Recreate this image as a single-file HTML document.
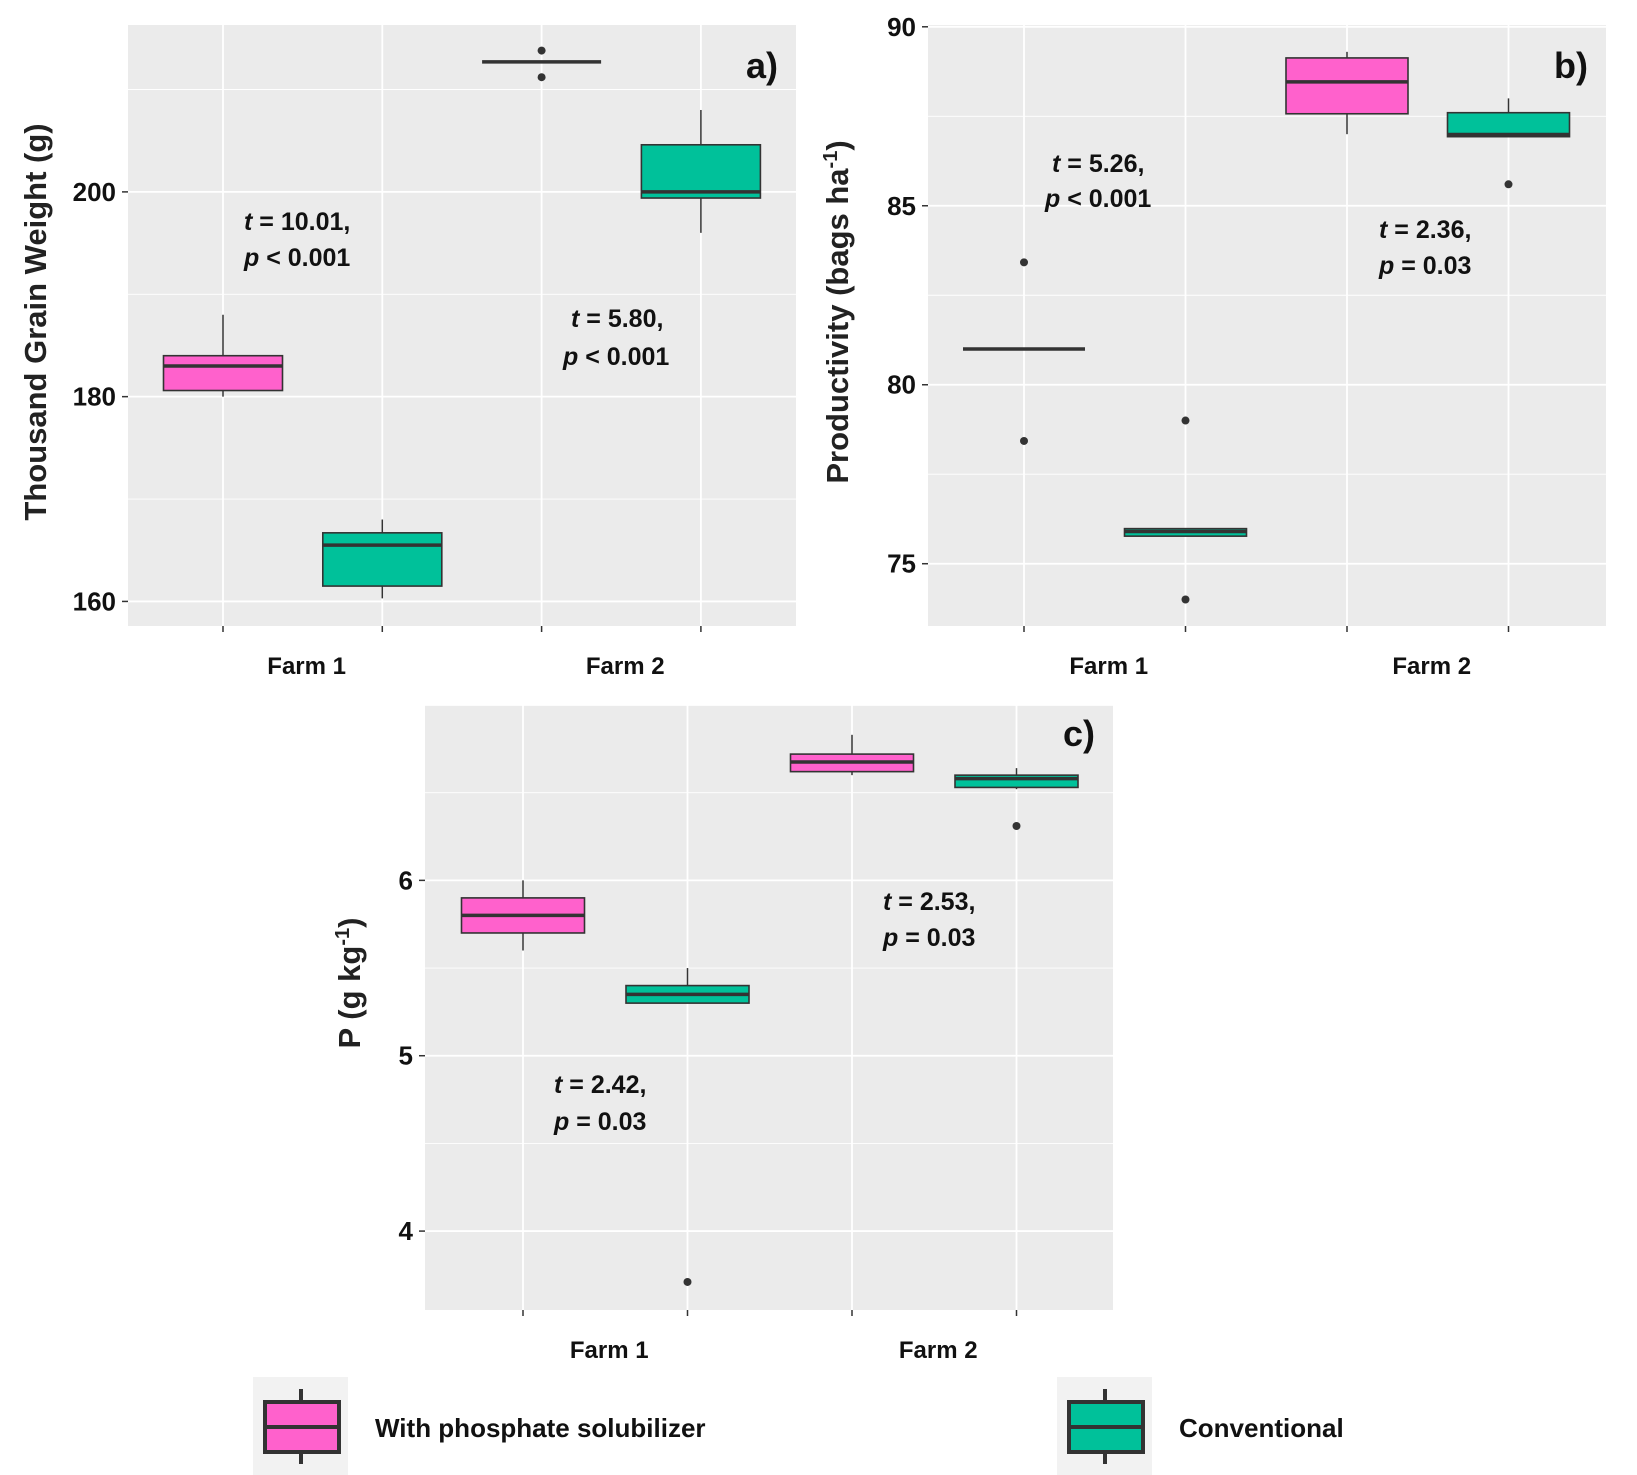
<!DOCTYPE html>
<html><head><meta charset="utf-8"><style>
html,body{margin:0;padding:0;background:#fff;}
svg{display:block;font-family:"Liberation Sans",sans-serif;}
</style></head><body>
<svg id="chart" width="1637" height="1475" viewBox="0 0 1637 1475" xmlns="http://www.w3.org/2000/svg"></svg>
<script>
// ---- data ----
const groups = ["Farm 1 solubilizer","Farm 1 conventional","Farm 2 solubilizer","Farm 2 conventional"];
const farmLabels = ["Farm 1","Farm 2"];
// [lowWhisker, q1, median, q3, highWhisker]
const tgwStats = [[180,180.6,183,184,188],[160.3,161.5,165.5,166.7,168],[212.7,212.7,212.7,212.7,212.7],[196,199.4,200,204.6,208]];
const tgwOutliers = [[],[],[213.8,211.2],[]];
const tgwTicks = [160,180,200];
const prodStats = [[81,81,81,81,81],[75.77,75.77,75.9,75.98,75.98],[87,87.57,88.46,89.13,89.3],[86.93,86.93,86.99,87.6,88]];
const prodOutliers = [[83.42,78.43],[79,74],[],[85.6]];
const prodTicks = [75,80,85,90];
const pStats = [[5.6,5.7,5.8,5.9,6.0],[5.3,5.3,5.35,5.4,5.5],[6.6,6.62,6.675,6.72,6.83],[6.52,6.53,6.58,6.6,6.64]];
const pOutliers = [[],[3.71],[],[6.31]];
const pTicks = [4,5,6];
const colors = ["#FF61CC","#00C19A","#FF61CC","#00C19A"];

const NS="http://www.w3.org/2000/svg";
const svg=document.getElementById('chart');
function mk(tag,attrs,parent){const e=document.createElementNS(NS,tag);for(const k in attrs)e.setAttribute(k,attrs[k]);(parent||svg).appendChild(e);return e;}

function panel(cfg){
  const g=mk('g',{});
  
  
  const {x0,x1,y0,y1,vmin,vmax}=cfg;
  const ys=v=>y1-(v-vmin)/(vmax-vmin)*(y1-y0);
  const xs=i=>cfg.xc0+i*cfg.dx;
  const bg=mk('rect',{x:x0,y:y0,width:x1-x0,height:y1-y0,fill:'#EBEBEB'},g);
  
  
  const step=cfg.ticks[1]-cfg.ticks[0];
  for(let v=cfg.ticks[0]-step/2; v<=vmax+1e-9; v+=step/2){
    if(v<vmin) continue;
    mk('line',{x1:x0,x2:x1,y1:ys(v),y2:ys(v),stroke:'#fff','stroke-width':Math.abs(((v-cfg.ticks[0])/step)%1)<1e-6?1.8:0.9},g);
  }
  for(let i=0;i<4;i++){
    mk('line',{x1:xs(i),x2:xs(i),y1:y0,y2:y1,stroke:'#fff','stroke-width':1.8},g);
    mk('line',{x1:xs(i),x2:xs(i),y1:y1,y2:y1+6,stroke:'#333','stroke-width':1.5},g);
  }
  cfg.ticks.forEach(v=>{
    mk('line',{x1:x0-6,x2:x0,y1:ys(v),y2:ys(v),stroke:'#333','stroke-width':1.5},g);
    const t=mk('text',{x:x0-12,y:ys(v)+9,'text-anchor':'end','font-size':26,'font-weight':'bold',fill:'#111'},g);
    t.textContent=v;
    
    
  });
  cfg.stats.forEach((s,i)=>{
    const cx=xs(i),w=cfg.bw;
    const bx=mk('g',{},g);
    
    
    mk('line',{x1:cx,x2:cx,y1:ys(s[4]),y2:ys(s[3]),stroke:'#333','stroke-width':1.5},bx);
    mk('line',{x1:cx,x2:cx,y1:ys(s[1]),y2:ys(s[0]),stroke:'#333','stroke-width':1.5},bx);
    mk('rect',{x:cx-w/2,y:ys(s[3]),width:w,height:Math.max(0,ys(s[1])-ys(s[3])),fill:colors[i],stroke:'#333','stroke-width':1.6},bx);
    mk('line',{x1:cx-w/2,x2:cx+w/2,y1:ys(s[2]),y2:ys(s[2]),stroke:'#333','stroke-width':3.5},bx);
    cfg.outliers[i].forEach(o=>{
      const c=mk('circle',{cx:cx,cy:ys(o),r:4,fill:'#333'},bx);
      
      
    });
  });
  farmLabels.forEach((f,j)=>{
    const t=mk('text',{x:(xs(2*j)+xs(2*j+1))/2+4,y:y1+48,'text-anchor':'middle','font-size':24,'font-weight':'bold',fill:'#111'},g);
    t.textContent=f;
    
    
  });
  const tl=mk('text',{x:cfg.tagx,y:cfg.tagy,'text-anchor':'end','font-size':36,'font-weight':'bold',fill:'#111'},g);
  tl.textContent=cfg.tag;
  
  
  const at=mk('text',{transform:`translate(${cfg.titlex},${cfg.titley}) rotate(-90)`,'text-anchor':'middle','font-size':31,'font-weight':'bold',fill:'#222'},g);
  at.innerHTML=cfg.title;
  
  
  cfg.notes.forEach(n=>{
    const t=mk('text',{x:n[0],y:n[1],'font-size':25,'font-weight':'bold',fill:'#111'},g);
    t.innerHTML=n[2];
    
    
  });
}
panel({name:'panel-a-thousand-grain-weight',x0:128,x1:796,y0:25,y1:626,vmin:157.6,vmax:216.3,ticks:tgwTicks,xc0:223,dx:159.3,bw:119,
  stats:tgwStats,outliers:tgwOutliers,tag:'a)',tagx:778,tagy:78,title:'Thousand Grain Weight (g)',titlex:46,titley:322,
  notes:[[244,230,'<tspan font-style="italic">t</tspan> = 10.01,'],[244,266,'<tspan font-style="italic">p</tspan> &lt; 0.001'],[571,327,'<tspan font-style="italic">t</tspan> = 5.80,'],[563,365,'<tspan font-style="italic">p</tspan> &lt; 0.001']]});
panel({name:'panel-b-productivity',x0:928,x1:1606,y0:25,y1:626,vmin:73.26,vmax:90.05,ticks:prodTicks,xc0:1024,dx:161.5,bw:122,
  stats:prodStats,outliers:prodOutliers,tag:'b)',tagx:1588,tagy:78,title:'Productivity (bags ha<tspan baseline-shift="super" font-size="20">-1</tspan>)',titlex:848,titley:312,
  notes:[[1052,172,'<tspan font-style="italic">t</tspan> = 5.26,'],[1045,207,'<tspan font-style="italic">p</tspan> &lt; 0.001'],[1379,238,'<tspan font-style="italic">t</tspan> = 2.36,'],[1379,274,'<tspan font-style="italic">p</tspan> = 0.03']]});
panel({name:'panel-c-phosphorus',x0:425,x1:1113,y0:705,y1:1310,vmin:3.55,vmax:7.0,ticks:pTicks,xc0:523,dx:164.5,bw:123,
  stats:pStats,outliers:pOutliers,tag:'c)',tagx:1095,tagy:746,title:'P (g kg<tspan baseline-shift="super" font-size="20">-1</tspan>)',titlex:360,titley:983,
  notes:[[883,910,'<tspan font-style="italic">t</tspan> = 2.53,'],[883,946,'<tspan font-style="italic">p</tspan> = 0.03'],[554,1093,'<tspan font-style="italic">t</tspan> = 2.42,'],[554,1130,'<tspan font-style="italic">p</tspan> = 0.03']]});

const legendItems=[["With phosphate solubilizer",colors[0],253],["Conventional",colors[1],1057]];
legendItems.forEach(it=>{
  const g=mk('g',{});
  
  
  const x=it[2];
  mk('rect',{x:x,y:1377,width:95,height:98,fill:'#F2F2F2'},g);
  mk('line',{x1:x+48,x2:x+48,y1:1389,y2:1464,stroke:'#333','stroke-width':4},g);
  mk('rect',{x:x+12,y:1402,width:74,height:50,fill:it[1],stroke:'#333','stroke-width':4},g);
  mk('line',{x1:x+12,x2:x+86,y1:1427,y2:1427,stroke:'#333','stroke-width':4},g);
  const t=mk('text',{x:x+122,y:1437,'font-size':26,'font-weight':'bold',fill:'#111'},g);
  t.textContent=it[0];
});
</script>
</body></html>
